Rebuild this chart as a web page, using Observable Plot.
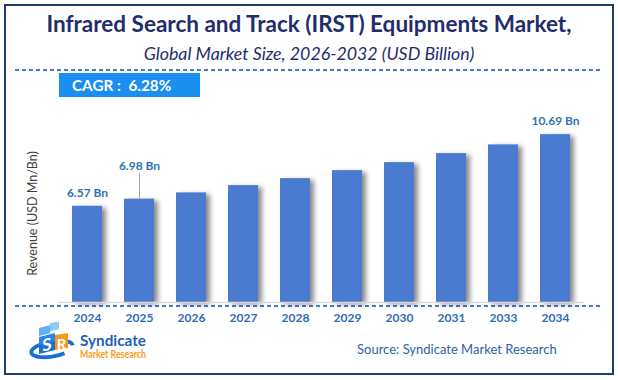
<!DOCTYPE html>
<html>
<head>
<meta charset="utf-8">
<script src="https://cdn.jsdelivr.net/npm/d3@7"></script>
<script src="https://cdn.jsdelivr.net/npm/@observablehq/plot@0.6"></script>
<style>
  html, body { margin: 0; padding: 0; background: #fff; }
  #wrap { position: relative; width: 618px; height: 380px; overflow: hidden; background: #fff; font-family: Lato, "Open Sans", sans-serif; }
  #frame { position: absolute; left: 4px; top: 4px; width: 610px; height: 371px; box-sizing: border-box; border: 2px solid #1f3d6b; }
  #title { position: absolute; left: 0; width: 618px; top: 9.5px; text-align: center; font-size: 22.5px; line-height: normal; font-weight: 700; color: #1f2d6e; white-space: nowrap; }
  #subtitle { position: absolute; left: 0; width: 618px; top: 41.7px; text-align: center; font-size: 17.8px; line-height: normal; font-style: italic; color: #1f2d6e; white-space: nowrap; }
  .dash { position: absolute; left: 15px; width: 586px; height: 1.5px; background: repeating-linear-gradient(to right, #4a78c8 0 4px, transparent 4px 7px); }
  #cagr { position: absolute; left: 59px; top: 73px; width: 141px; height: 24px; background: #1b8ef2; color: #fff; font-weight: 700; font-size: 15.3px; line-height: 24px; padding-left: 13px; box-sizing: border-box; white-space: pre; }
  #chart { position: absolute; left: 0; top: 105px; }
  #source { position: absolute; left: 357px; top: 341px; font-size: 13px; color: #2e62a8; white-space: nowrap; }
  #logo { position: absolute; left: 26px; top: 322px; }
</style>
</head>
<body>
<div id="wrap">
  <div id="frame"></div>
  <div id="title"></div>
  <div id="subtitle"></div>
  <div class="dash" style="top:69px"></div>
  <div id="cagr"></div>
  <div class="dash" style="top:305px"></div>
  <div id="chart"></div>
  <svg id="logo" width="170" height="48" viewBox="0 0 170 48">
    <ellipse cx="26" cy="27" rx="21" ry="7.5" fill="none" stroke="#1a6dd6" stroke-width="3.8" stroke-dasharray="92 30" stroke-dashoffset="-12" transform="rotate(-10 26 27)"/>
    <g transform="translate(13,9) skewY(-14)">
      <rect x="0" y="-3" width="11" height="8" fill="#5fb0f4"/>
      <rect x="11" y="-5" width="9" height="8" fill="#8cc8f8"/>
      <rect x="0" y="6" width="16" height="8" fill="#2a86e6"/>
      <rect x="0" y="15" width="16" height="8" fill="#1f6fd0"/>
      <text x="8" y="21.5" font-size="17" font-weight="700" fill="#fff" text-anchor="middle" font-family="Lato">S</text>
    </g>
    <rect x="29" y="17" width="13" height="15" fill="#f39a1e" transform="skewY(-8)"/>
    <text x="35.5" y="28" font-size="15" font-weight="700" fill="#fff" text-anchor="middle" font-family="Lato">R</text>
    <text x="54" y="24" font-size="15.5" font-weight="700" fill="#2262b5" font-family="Lato" textLength="66" lengthAdjust="spacingAndGlyphs">Syndicate</text>
    <text x="54" y="35.5" font-size="10.5" font-weight="700" fill="#f5a020" font-family="Lato" textLength="66" lengthAdjust="spacingAndGlyphs">Market Research</text>
  </svg>
  <div id="source"></div>
</div>
<script>
// ---- data ----
const titleText = "Infrared Search and Track (IRST) Equipments Market,";
const subtitleText = "Global Market Size, 2026-2032 (USD Billion)";
const cagrText = "CAGR :  6.28%";
const yAxisLabel = "Revenue (USD Mn/Bn)";
const sourceText = "Source: Syndicate Market Research";
const years = ["2024", "2025", "2026", "2027", "2028", "2029", "2030", "2031", "2033", "2034"];
const revenue = [6.57, 6.98, 7.34, 7.76, 8.16, 8.62, 9.08, 9.60, 10.10, 10.69];
const labeledYears = ["2024", "2025", "2034"];
const labelTexts = ["6.57 Bn", "6.98 Bn", "10.69 Bn"];
const leaderYears = ["2025"];
const yMin = 1.04, yMax = 11.79;

document.getElementById("title").textContent = titleText;
document.getElementById("subtitle").textContent = subtitleText;
document.getElementById("cagr").textContent = cagrText;
document.getElementById("source").textContent = sourceText;

const data = years.map((year, i) => ({year, value: revenue[i]}));
const labels = labeledYears.map((year, i) => ({year, value: revenue[years.indexOf(year)], label: labelTexts[i]}));

const chart = Plot.plot({
  width: 618,
  height: 230,
  marginTop: 10,
  marginBottom: 33,
  marginLeft: 58,
  marginRight: 34,
  style: {background: "transparent", fontFamily: "Lato, sans-serif", overflow: "visible"},
  x: {domain: years, paddingInner: 0.43, paddingOuter: 0.215, label: null},
  y: {domain: [yMin, yMax], clamp: true, axis: null},
  marks: [
    Plot.barY(data, {x: "year", y: "value", fill: "#4a7bd1"}),
    Plot.ruleY([yMin], {stroke: "#d9d9d9", strokeWidth: 1.5}),
    Plot.axisX({tickSize: 0, tickPadding: 11, fontSize: 12, fontWeight: "bold", fill: "#2e6cb5", label: null}),
    Plot.ruleX(labels.filter(d => leaderYears.includes(d.year)), {x: "year", y1: "value", y2: "value", stroke: "#a6a6a6", strokeWidth: 1, insetBottom: 26}),
    Plot.text(labels.filter(d => !leaderYears.includes(d.year)), {x: "year", y: "value", text: "label", dy: -13.5, fill: "#2e75b6", fontSize: 12, fontWeight: "bold"}),
    Plot.text(labels.filter(d => leaderYears.includes(d.year)), {x: "year", y: "value", text: "label", dy: -33, fill: "#2e75b6", fontSize: 12, fontWeight: "bold"}),
    Plot.text([yAxisLabel], {frameAnchor: "left", textAnchor: "middle", rotate: -90, dx: -26, dy: 4.5, fill: "#404040", fontSize: 12.5})
  ]
});
document.getElementById("chart").appendChild(chart);
d3.select(chart).selectAll("g[aria-label='bar']").style("filter", "drop-shadow(4px 2px 2.5px rgba(0,0,0,0.45))");
</script>
</body>
</html>
